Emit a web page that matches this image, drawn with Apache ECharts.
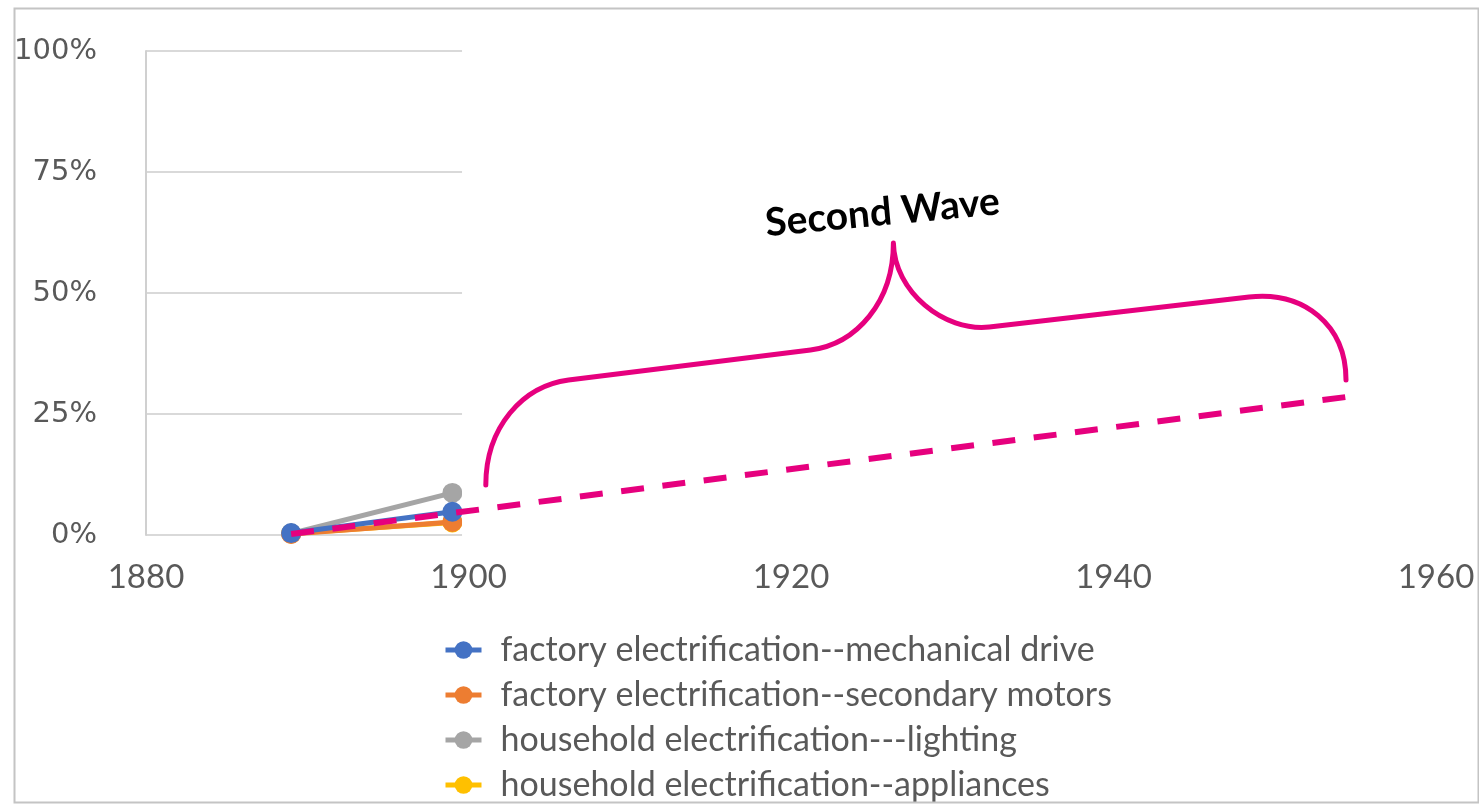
<!DOCTYPE html>
<html>
<head>
<meta charset="utf-8">
<script src="https://cdn.jsdelivr.net/npm/echarts@6/dist/echarts.min.js"></script>
<style>
html,body{margin:0;padding:0;background:#fff;}
#chart{width:1479px;height:807px;}
</style>
</head>
<body>
<div id="chart"></div>
<script>
// ---- data ----
var years = [1889, 1899];
var mechanicalDrive = [0.4, 4.8];
var secondaryMotors = [0.2, 2.7];
var lighting = [0.3, 8.7];
var appliances = [0.3, 2.6];
var seriesNames = [
  'factory electrification--mechanical drive',
  'factory electrification--secondary motors',
  'household electrification---lighting',
  'household electrification--appliances'
];
var yTicks = [0, 25, 50, 75, 100];
var xTicks = [1880, 1900, 1920, 1940, 1960];

// annotation: dashed "second wave" trend (year, percent)
var trendYears = [1889, 1954.4];
var trendValues = [0.2, 28.5];
// crop of the original picture: region hidden from 1899.6 onward
var hiddenFrom = [1899.6, 1962];
var hiddenRange = [-3, 103];
// curly brace (year, percent) as cubic segments
var braceX = [1901.07, 1901.07, 1903.36, 1906.21, 1921.21, 1924.06, 1926.35, 1926.35, 1926.4, 1929.51, 1932.30, 1948.41, 1951.82, 1954.42, 1954.42];
var braceY = [10.33, 22.31, 30.79, 32.02, 38.22, 39.46, 48.14, 60.33, 50.3, 41.94, 42.98, 49.17, 50.41, 43.39, 32.02];
var braceLabel = 'Second Wave';
var braceLabelPos = [1925.67, 66.6];

var pink = '#E6007E';
var colors = ['#4472C4', '#ED7D31', '#A5A5A5', '#FFC000'];
var values = [mechanicalDrive, secondaryMotors, lighting, appliances];
var zs = [6, 5, 4, 3];

function pairs(xs, ys) { return xs.map(function (x, i) { return [x, ys[i]]; }); }

var series = seriesNames.map(function (n, i) {
  return {
    name: n, type: 'line', data: pairs(years, values[i]),
    symbol: 'circle', symbolSize: 20, z: zs[i],
    lineStyle: { width: 5, color: colors[i] },
    itemStyle: { color: colors[i] },
    emphasis: { disabled: true }, animation: false
  };
});

series.push({
  type: 'custom', name: 'hidden', z: 10, silent: true, animation: false,
  data: [[hiddenFrom[0], hiddenRange[0], hiddenFrom[1], hiddenRange[1]]],
  renderItem: function (params, api) {
    var p0 = api.coord([api.value(0), api.value(3)]);
    var p1 = api.coord([api.value(2), api.value(1)]);
    return { type: 'rect', shape: { x: p0[0], y: p0[1], width: p1[0] - p0[0], height: p1[1] - p0[1] },
      style: { fill: '#ffffff' } };
  }
});

series.push({
  type: 'line', name: 'trend', z: 11, silent: true, animation: false,
  data: pairs(trendYears, trendValues), symbol: 'none',
  lineStyle: { color: pink, width: 6, type: [23, 18.6] }
});

series.push({
  type: 'custom', name: 'brace', z: 12, silent: true, animation: false,
  data: [[0]],
  renderItem: function (params, api) {
    var pts = braceX.map(function (x, i) { return api.coord([x, braceY[i]]); });
    function s(p) { return p[0].toFixed(1) + ' ' + p[1].toFixed(1); }
    var d = 'M' + s(pts[0]) +
      ' C' + s(pts[1]) + ' ' + s(pts[2]) + ' ' + s(pts[3]) +
      ' L' + s(pts[4]) +
      ' C' + s(pts[5]) + ' ' + s(pts[6]) + ' ' + s(pts[7]) +
      ' C' + s(pts[8]) + ' ' + s(pts[9]) + ' ' + s(pts[10]) +
      ' L' + s(pts[11]) +
      ' C' + s(pts[12]) + ' ' + s(pts[13]) + ' ' + s(pts[14]);
    var lp = api.coord(braceLabelPos);
    return { type: 'group', children: [
      { type: 'path', shape: { pathData: d },
        style: { stroke: pink, lineWidth: 5, fill: null, lineCap: 'round', lineJoin: 'round' } },
      { type: 'text', x: lp[0], y: lp[1], rotation: 5.4 * Math.PI / 180,
        style: { text: braceLabel, fill: '#000', font: 'bold 39px Lato', align: 'center', verticalAlign: 'middle' } }
    ] };
  }
});

var chart = echarts.init(document.getElementById('chart'));
chart.setOption({
  backgroundColor: '#ffffff',
  animation: false,
  grid: { left: 146, right: 43, top: 51, bottom: 272, containLabel: false },
  xAxis: {
    type: 'value', min: xTicks[0], max: xTicks[xTicks.length - 1], interval: 20,
    axisLine: { show: false }, axisTick: { show: false }, splitLine: { show: false },
    axisLabel: { margin: 26, color: '#595959', fontSize: 33, fontFamily: 'Lato',
      formatter: function (v) { return xTicks.indexOf(v) >= 0 ? String(v) : ''; } }
  },
  yAxis: {
    type: 'value', min: yTicks[0], max: yTicks[yTicks.length - 1], interval: 25,
    axisLine: { show: true, lineStyle: { color: '#d0d0d0', width: 2 } },
    axisTick: { show: false },
    splitLine: { lineStyle: { color: '#d9d9d9', width: 2 } },
    axisLabel: { margin: 49, color: '#595959', fontSize: 29, fontFamily: 'DejaVu Sans',
      padding: [8, 0, 0, 0], formatter: '{value}%' }
  },
  legend: {
    data: seriesNames, orient: 'vertical', left: 443, top: 633, padding: 0,
    itemWidth: 36, itemHeight: 22, itemGap: 11, selectedMode: false,
    lineStyle: { width: 5 },
    textStyle: { color: '#595959', fontSize: 34, lineHeight: 34, fontFamily: 'Lato', padding: [0, 0, 0, 14] }
  },
  graphic: [{
    type: 'rect', left: 12, top: 6, z: 100, silent: true,
    shape: { width: 1464, height: 794 },
    style: { fill: null, stroke: '#c4c4c4', lineWidth: 2 }
  }],
  series: series
});
</script>
</body>
</html>
